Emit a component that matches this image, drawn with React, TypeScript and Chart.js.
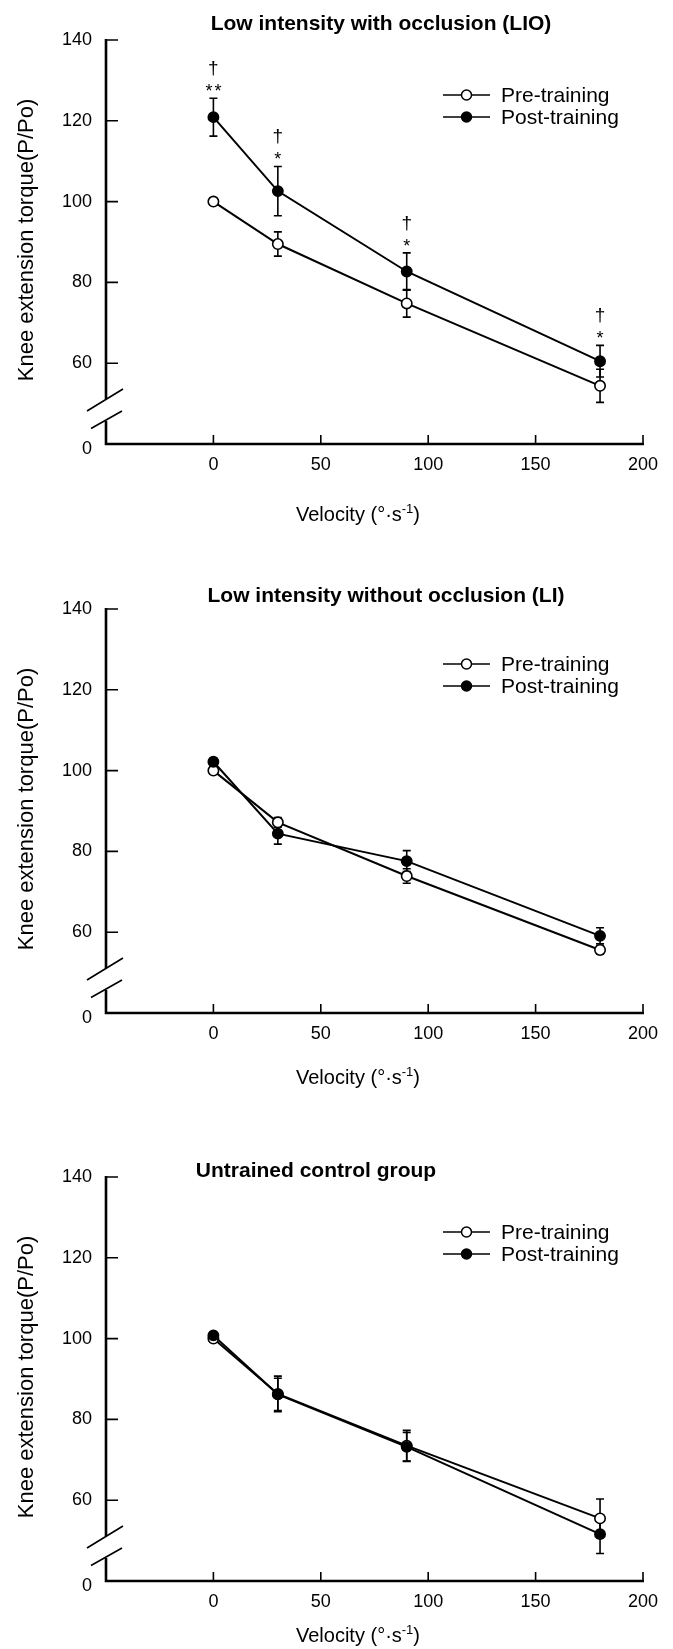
import React, { useEffect, useRef } from "react";
import { Chart, registerables } from "chart.js";

Chart.register(...registerables);

// ---------- data ----------
const velocities = [0, 30, 90, 180];
const xTickValues = [0, 50, 100, 150, 200];
const yTickValues = [40, 60, 80, 100, 120, 140];
const yTickLabels = ["0", "60", "80", "100", "120", "140"];

const lioPre = [100, 89.5, 74.8, 54.4];
const lioPreErr = [0, 3.0, 3.4, 4.1];
const lioPost = [120.9, 102.6, 82.7, 60.5];
const lioPostErr = [4.7, 6.1, 4.6, 3.9];
const lioStars = ["**", "*", "*", "*"];
const lioDaggers = ["†", "†", "†", "†"];

const liPre = [100, 87.2, 73.9, 55.6];
const liPreErr = [0, 1.2, 1.8, 1.0];
const liPost = [102.2, 84.4, 77.6, 59.1];
const liPostErr = [0.8, 2.6, 2.6, 2.0];

const conPre = [100, 86.3, 73.5, 55.5];
const conPreErr = [0, 4.4, 3.8, 4.8];
const conPost = [100.8, 86.2, 73.2, 51.6];
const conPostErr = [0.6, 4.0, 3.6, 4.8];

const legendLabels = ["Pre-training", "Post-training"];
const yTitle = "Knee extension torque(P/Po)";

// ---------- layout ----------
const FONT = "'Liberation Sans', Arial, Helvetica, sans-serif";
const W = 673;

type Panel = {
  key: string;
  title: string;
  titleX: number;
  titleDy: number;
  height: number;
  areaTop: number;
  areaBottom: number;
  velDy: number;
  pre: number[];
  preErr: number[];
  post: number[];
  postErr: number[];
  stars?: string[];
  daggers?: string[];
};

const panels: Panel[] = [
  {
    key: "lio",
    title: "Low intensity with occlusion (LIO)",
    titleX: 381,
    titleDy: -16,
    height: 560,
    areaTop: 40,
    areaBottom: 444,
    velDy: 70,
    pre: lioPre,
    preErr: lioPreErr,
    post: lioPost,
    postErr: lioPostErr,
    stars: lioStars,
    daggers: lioDaggers,
  },
  {
    key: "li",
    title: "Low intensity without occlusion (LI)",
    titleX: 386,
    titleDy: -13,
    height: 570,
    areaTop: 49,
    areaBottom: 453,
    velDy: 64,
    pre: liPre,
    preErr: liPreErr,
    post: liPost,
    postErr: liPostErr,
  },
  {
    key: "con",
    title: "Untrained control group",
    titleX: 316,
    titleDy: -5.5,
    height: 519,
    areaTop: 47,
    areaBottom: 451,
    velDy: 54,
    pre: conPre,
    preErr: conPreErr,
    post: conPost,
    postErr: conPostErr,
  },
];

function decorPlugin(p: Panel) {
  return {
    id: "decor_" + p.key,
    beforeDatasetsDraw(chart: any) {
      const ctx = chart.ctx as CanvasRenderingContext2D;
      const xs = chart.scales.x;
      const ys = chart.scales.y;
      const ax = xs.getPixelForValue(-50);
      const right = xs.getPixelForValue(200);
      const top = ys.getPixelForValue(140);
      const bot = ys.getPixelForValue(40);
      ctx.save();
      ctx.strokeStyle = "#000";
      ctx.lineCap = "butt";
      // axes (y axis broken)
      ctx.lineWidth = 2.6;
      ctx.beginPath();
      ctx.moveTo(ax, top - 1);
      ctx.lineTo(ax, bot - 45);
      ctx.moveTo(ax, bot - 23);
      ctx.lineTo(ax, bot + 1.3);
      ctx.moveTo(ax - 1.3, bot);
      ctx.lineTo(right + 1, bot);
      ctx.stroke();
      // break slashes
      ctx.lineWidth = 1.6;
      ctx.beginPath();
      ctx.moveTo(ax - 19, bot - 33);
      ctx.lineTo(ax + 17, bot - 55);
      ctx.moveTo(ax - 15, bot - 15.5);
      ctx.lineTo(ax + 16, bot - 33);
      ctx.stroke();
      // tick marks
      ctx.lineWidth = 1.6;
      ctx.beginPath();
      for (const v of yTickValues) {
        if (v === 40) continue;
        const y = ys.getPixelForValue(v);
        ctx.moveTo(ax, y);
        ctx.lineTo(ax + 12, y);
      }
      for (const v of xTickValues) {
        const x = xs.getPixelForValue(v);
        ctx.moveTo(x, bot);
        ctx.lineTo(x, bot - 9);
      }
      ctx.stroke();
      // error bars
      ctx.lineWidth = 1.6;
      chart.data.datasets.forEach((ds: any) => {
        const errs: number[] = ds.errors || [];
        ds.data.forEach((pt: any, i: number) => {
          const e = errs[i] || 0;
          if (!e) return;
          const x = xs.getPixelForValue(pt.x);
          const yT = ys.getPixelForValue(pt.y + e);
          const yB = ys.getPixelForValue(pt.y - e);
          ctx.beginPath();
          ctx.moveTo(x, yT);
          ctx.lineTo(x, yB);
          ctx.moveTo(x - 4, yT);
          ctx.lineTo(x + 4, yT);
          ctx.moveTo(x - 4, yB);
          ctx.lineTo(x + 4, yB);
          ctx.stroke();
        });
      });
      ctx.restore();
    },
    afterDraw(chart: any) {
      const ctx = chart.ctx as CanvasRenderingContext2D;
      const xs = chart.scales.x;
      const ys = chart.scales.y;
      const ax = xs.getPixelForValue(-50);
      const top = ys.getPixelForValue(140);
      const bot = ys.getPixelForValue(40);
      ctx.save();
      ctx.fillStyle = "#000";
      ctx.strokeStyle = "#000";
      // title
      ctx.font = "bold 21px " + FONT;
      ctx.textAlign = "center";
      ctx.textBaseline = "middle";
      ctx.fillText(p.title, p.titleX, top + p.titleDy);
      // y-axis "0" label (below broken axis)
      ctx.font = "18px " + FONT;
      ctx.textAlign = "right";
      ctx.fillText(yTickLabels[0], ax - 14, bot + 5);
      // y title
      ctx.save();
      ctx.translate(27, top + 200);
      ctx.rotate(-Math.PI / 2);
      ctx.font = "22px " + FONT;
      ctx.textAlign = "center";
      ctx.textBaseline = "middle";
      ctx.fillText(yTitle, 0, 0);
      ctx.restore();
      // x title with superscript
      const main1 = "Velocity (°·s";
      const sup = "-1";
      const main2 = ")";
      ctx.textBaseline = "alphabetic";
      ctx.textAlign = "left";
      ctx.font = "20px " + FONT;
      const w1 = ctx.measureText(main1).width;
      const w3 = ctx.measureText(main2).width;
      ctx.font = "13px " + FONT;
      const w2 = ctx.measureText(sup).width;
      const total = w1 + w2 + w3;
      const x0 = 358 - total / 2;
      const base = bot + p.velDy + 7;
      ctx.font = "20px " + FONT;
      ctx.fillText(main1, x0, base);
      ctx.font = "13px " + FONT;
      ctx.fillText(sup, x0 + w1, base - 8);
      ctx.font = "20px " + FONT;
      ctx.fillText(main2, x0 + w1 + w2, base);
      // legend
      const rows = [
        { y: top + 55, fill: "#fff" },
        { y: top + 77, fill: "#000" },
      ];
      rows.forEach((r, i) => {
        ctx.lineWidth = 1.3;
        ctx.beginPath();
        ctx.moveTo(443, r.y);
        ctx.lineTo(490, r.y);
        ctx.stroke();
        ctx.beginPath();
        ctx.arc(466.5, r.y, 5, 0, Math.PI * 2);
        ctx.fillStyle = r.fill;
        ctx.fill();
        ctx.lineWidth = 1.5;
        ctx.stroke();
        ctx.fillStyle = "#000";
        ctx.font = "21px " + FONT;
        ctx.textAlign = "left";
        ctx.textBaseline = "middle";
        ctx.fillText(legendLabels[i], 501, r.y + 1);
      });
      // significance marks
      if (p.stars && p.daggers) {
        velocities.forEach((v, i) => {
          const x = xs.getPixelForValue(v);
          const errTop = ys.getPixelForValue(p.post[i] + p.postErr[i]);
          const s = p.stars![i];
          ctx.font = "18px " + FONT;
          ctx.textAlign = "center";
          ctx.textBaseline = "alphabetic";
          const starBase = errTop - 11 + 10;
          if (s.length === 2) {
            ctx.fillText("*", x - 4.5, starBase);
            ctx.fillText("*", x + 4.5, starBase);
          } else {
            ctx.fillText(s, x, starBase);
          }
          ctx.font = "19px " + FONT;
          ctx.fillText(p.daggers![i], x, errTop - 29 + 5);
        });
      }
      ctx.restore();
    },
  };
}

function PanelChart({ p }: { p: Panel }) {
  const ref = useRef<HTMLCanvasElement | null>(null);
  useEffect(() => {
    if (!ref.current) return;
    const mk = (vals: number[]) => velocities.map((x, i) => ({ x, y: vals[i] }));
    const chart = new Chart(ref.current, {
      type: "line",
      data: {
        datasets: [
          {
            label: legendLabels[1],
            data: mk(p.post),
            errors: p.postErr,
            borderColor: "#000",
            borderWidth: 2,
            backgroundColor: "#000",
            pointBackgroundColor: "#000",
            pointBorderColor: "#000",
            pointRadius: 5.2,
            pointBorderWidth: 1.5,
            tension: 0,
          } as any,
          {
            label: legendLabels[0],
            data: mk(p.pre),
            errors: p.preErr,
            borderColor: "#000",
            borderWidth: 2,
            backgroundColor: "#fff",
            pointBackgroundColor: "#fff",
            pointBorderColor: "#000",
            pointRadius: 5.2,
            pointBorderWidth: 1.6,
            tension: 0,
          } as any,
        ],
      },
      options: {
        responsive: false,
        maintainAspectRatio: false,
        animation: false,
        devicePixelRatio: 1,
        layout: { padding: { top: p.areaTop, right: W - 643, left: 0, bottom: 0 } },
        plugins: {
          legend: { display: false },
          title: { display: false },
          tooltip: { enabled: false },
        },
        scales: {
          x: {
            type: "linear",
            min: -50,
            max: 200,
            grid: { display: false, drawTicks: false },
            border: { display: false },
            afterBuildTicks: (scale: any) => {
              scale.ticks = xTickValues.map((v) => ({ value: v }));
            },
            afterFit: (scale: any) => {
              scale.height = p.height - p.areaBottom;
            },
            ticks: {
              color: "#000",
              font: { family: FONT, size: 18 },
              padding: 10,
              maxRotation: 0,
              callback: (v: any) => String(v),
            },
          },
          y: {
            type: "linear",
            min: 40,
            max: 140,
            grid: { display: false, drawTicks: false },
            border: { display: false },
            afterBuildTicks: (scale: any) => {
              scale.ticks = yTickValues.map((v) => ({ value: v }));
            },
            afterFit: (scale: any) => {
              scale.width = 106;
            },
            ticks: {
              color: "#000",
              font: { family: FONT, size: 18 },
              padding: 14,
              callback: (v: any) => {
                const idx = yTickValues.indexOf(Number(v));
                return idx <= 0 ? "" : yTickLabels[idx];
              },
            },
          },
        },
      } as any,
      plugins: [decorPlugin(p)],
    });
    return () => chart.destroy();
  }, [p]);
  return <canvas ref={ref} width={W} height={p.height} style={{ display: "block", width: W, height: p.height }} />;
}

export default function App() {
  useEffect(() => {
    document.body.style.margin = "0";
    document.body.style.background = "#fff";
  }, []);
  return (
    <div style={{ width: W, height: 1649, background: "#fff" }}>
      {panels.map((p) => (
        <PanelChart key={p.key} p={p} />
      ))}
    </div>
  );
}
